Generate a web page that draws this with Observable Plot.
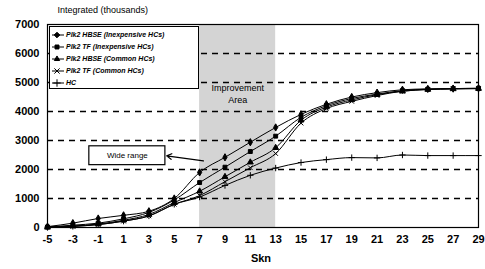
<!DOCTYPE html>
<html><head><meta charset="utf-8">
<script src="https://cdn.jsdelivr.net/npm/d3@7"></script>
<script src="https://cdn.jsdelivr.net/npm/@observablehq/plot@0.6"></script>
<style>
body{margin:0;background:#fff;font-family:"Liberation Sans",Arial,sans-serif;}
#wrap{position:relative;width:485px;height:269px;}
#legend{position:absolute;left:49px;top:26px;width:150px;height:63px;border:1px solid #000;background:#fff;box-sizing:border-box;padding:2px 2px;font:bold italic 7px "Liberation Sans",Arial,sans-serif;}
#legend div{height:12px;line-height:12px;white-space:nowrap;display:flex;align-items:center;}
#legend svg{margin-right:2px;}
</style></head><body>
<div id="wrap"></div>
<script>
const xs = [-5,-3,-1,1,3,5,7,9,11,13,15,17,19,21,23,25,27,29];
const seriesNames = ["Plk2 HBSE (Inexpensive HCs)","Plk2 TF (Inexpensive HCs)","Plk2 HBSE (Common HCs)","Plk2 TF (Common HCs)","HC"];
const s1 = [30,150,310,420,560,1000,1900,2420,2940,3450,3900,4250,4500,4650,4750,4780,4790,4800];
const s2 = [20,80,150,300,520,950,1550,2080,2620,3150,3800,4200,4450,4600,4720,4770,4790,4800];
const s3 = [10,50,120,250,450,860,1250,1750,2250,2750,3700,4150,4400,4580,4700,4760,4780,4790];
const s4 = [10,40,100,220,400,800,1100,1580,2060,2550,3600,4100,4350,4550,4700,4760,4780,4790];
const hc = [10,40,100,220,400,800,1050,1450,1800,2050,2240,2340,2410,2400,2500,2480,2480,2480];
const yTicks = [0,1000,2000,3000,4000,5000,6000,7000];
const xTicks = [-5,-3,-1,1,3,5,7,9,11,13,15,17,19,21,23,25,27,29];
const symbols = ["diamond","square","triangle","times","plus"];
const region = [{x1:7,x2:13}];

const allSeries = [s1,s2,s3,s4,hc];
const data = [];
allSeries.forEach((arr,i)=>arr.forEach((v,j)=>data.push({x:xs[j],y:v,s:seriesNames[i]})));

const chart = Plot.plot({
  width:485, height:269,
  marginLeft:47, marginRight:7, marginTop:24, marginBottom:42,
  style:{fontFamily:"Liberation Sans, Arial, sans-serif", fontSize:"11px", fontWeight:"bold", background:"#fff"},
  x:{domain:[-5,29], ticks:xTicks, tickSize:0, tickPadding:8, label:null, tickFormat:d=>String(d)},
  y:{domain:[0,7000], ticks:yTicks, tickSize:0, tickPadding:8, label:null, tickFormat:d=>String(d)},
  symbol:{domain:seriesNames, range:symbols},
  marks:[
    Plot.rect(region,{x1:"x1",x2:"x2",y1:0,y2:7000,fill:"#d4d4d4"}),
    Plot.ruleY(yTicks.filter(d=>d>0&&d<7000),{stroke:"#000",strokeWidth:1.5,strokeDasharray:"6,5"}),
    Plot.text(["Improvement","Area"],{x:10,y:[4800,4380],text:d=>d,fontSize:9,fontWeight:"normal"}),
    Plot.line(data,{x:"x",y:"y",z:"s",stroke:"#000",strokeWidth:1,curve:"monotone-x"}),
    Plot.dot(data,{x:"x",y:"y",symbol:"s",r:2.2,stroke:"#000",fill:"#000",strokeWidth:1}),
    Plot.rect([{x1:-1.7,x2:4.3,y1:2150,y2:2800}],{x1:"x1",x2:"x2",y1:"y1",y2:"y2",fill:"#fff",stroke:"#000",strokeWidth:1.2}),
    Plot.text(["Wide range"],{x:1.3,y:2475,text:d=>d,fontSize:8,fontWeight:"normal"}),
    Plot.arrow([{x1:7.3,y1:2300,x2:4.4,y2:2470}],{x1:"x1",y1:"y1",x2:"x2",y2:"y2",stroke:"#000",strokeWidth:1.2,headLength:7,bend:0}),
    Plot.frame({stroke:"#000",strokeWidth:1.2}),
    Plot.text(["Skn"],{frameAnchor:"bottom",dy:34,dx:-2,text:d=>d,fontSize:11}),
    Plot.text(["Integrated (thousands)"],{frameAnchor:"top-left",dx:10,dy:-18,text:d=>d,fontSize:9,fontWeight:"normal"})
  ]
});
const wrap = document.getElementById("wrap");
wrap.appendChild(chart);

const leg = document.createElement("div");
leg.id="legend";
seriesNames.forEach((n,i)=>{
  const row=document.createElement("div");
  const sym=d3.symbol(d3[{diamond:"symbolDiamond2",square:"symbolSquare2",triangle:"symbolTriangle2",times:"symbolTimes",plus:"symbolPlus"}[symbols[i]]],20)();
  row.innerHTML=`<svg width="12" height="8"><line x1="0" y1="4" x2="12" y2="4" stroke="#000"/><path d="${sym}" transform="translate(5,4)" fill="#000" stroke="#000"/></svg>${n}`;
  leg.appendChild(row);
});
wrap.appendChild(leg);
</script>
</body></html>
